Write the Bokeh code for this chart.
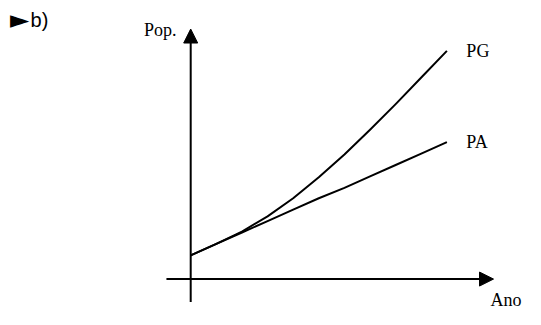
from bokeh.plotting import figure
from bokeh.models import Range1d, Arrow, NormalHead, Label
from bokeh.embed import file_html
from bokeh.resources import INLINE

# Data (arbitrary units)
years = [0, 1, 2, 3, 4, 5, 6, 7, 8, 9, 10]
pg = [25, 37, 50, 66, 85, 107, 131, 157, 184, 212, 240]   # progressão geométrica
pa = [25, 37, 49, 61, 73, 85, 96, 108, 120, 132, 144]     # progressão aritmética
series_labels = ["PG", "PA"]
axis_labels = ["Ano", "Pop."]
marker_text = "\u25ba"
title_text = "b)"

p = figure(width=525, height=309, output_backend="svg", toolbar_location=None,
           x_axis_location=None, y_axis_location=None,
           x_range=Range1d(-7.424, 13.068), y_range=Range1d(-32, 293),
           min_border=0)
p.outline_line_color = None
p.grid.visible = False
p.background_fill_color = "white"
p.border_fill_color = "white"

# axes with arrowheads
p.add_layout(Arrow(end=NormalHead(size=14, fill_color="black", line_color="black", line_width=1),
                   x_start=-0.947, y_start=0, x_end=11.82, y_end=0,
                   line_color="black", line_width=2))
p.add_layout(Arrow(end=NormalHead(size=14, fill_color="black", line_color="black", line_width=1),
                   x_start=0, y_start=-24, x_end=0, y_end=263,
                   line_color="black", line_width=2))

# curves
p.line(years, pg, line_color="black", line_width=2, line_join="round")
p.line(years, pa, line_color="black", line_width=2, line_join="round")

serif = "Liberation Serif"
fs = "18px"
p.add_layout(Label(x=10.76, y=pg[-1], text=series_labels[0], text_font=serif,
                   text_font_size=fs, text_baseline="middle", text_color="black"))
p.add_layout(Label(x=10.76, y=pa[-1], text=series_labels[1], text_font=serif,
                   text_font_size=fs, text_baseline="middle", text_color="black"))
p.add_layout(Label(x=-0.55, y=262, text=axis_labels[1], text_font=serif,
                   text_font_size=fs, text_baseline="middle", text_align="right",
                   text_color="black"))
p.add_layout(Label(x=11.70, y=-22, text=axis_labels[0], text_font=serif,
                   text_font_size=fs, text_baseline="middle", text_color="black"))
p.add_layout(Label(x=-7.05, y=273, text=marker_text, text_font="DejaVu Sans",
                   text_font_size="25px", text_baseline="middle", text_color="black"))
p.add_layout(Label(x=-6.25, y=273, text=title_text, text_font="Liberation Sans",
                   text_font_size="20px", text_baseline="middle", text_color="black"))

open("out.html", "w").write(file_html(p, INLINE))
